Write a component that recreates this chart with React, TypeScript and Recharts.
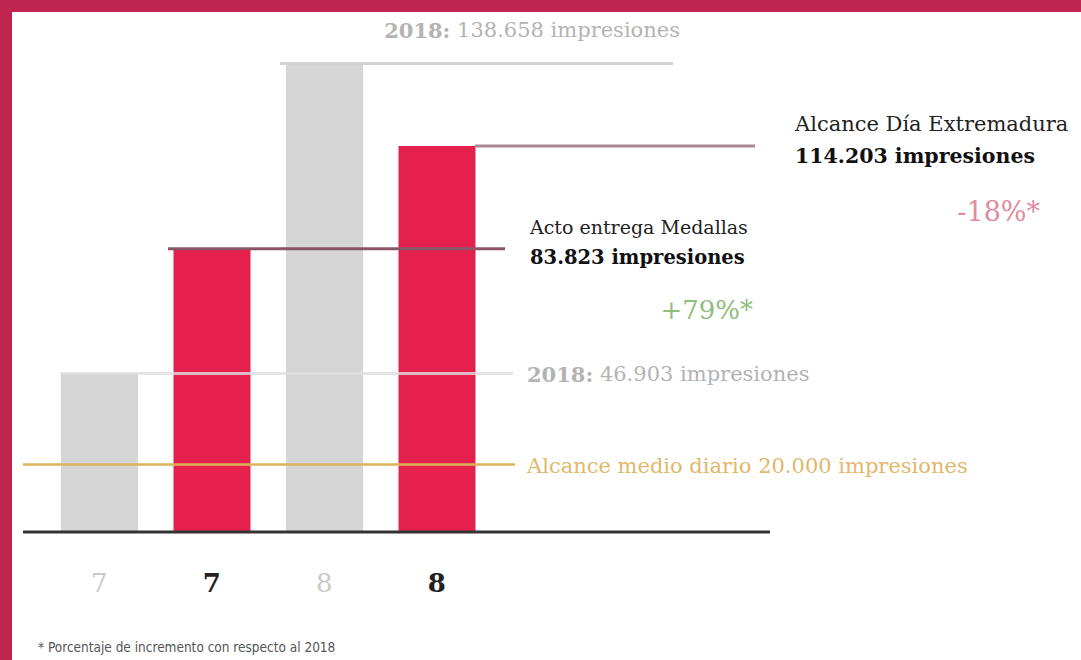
import { BarChart, Bar, XAxis, YAxis, Cell, ReferenceLine } from 'recharts';

// bars: 2018 vs 2019 for day 7 (medals) and day 8 (Extremadura day)
const categories = ['7', '7', '8', '8'];
const years = ['2018', '2019', '2018', '2019'];
const impressions = [46903, 83823, 138658, 114203];
const dailyAverage = 20000;

const eventNames = ['Acto entrega Medallas', 'Alcance Día Extremadura'];
const footnote = '* Porcentaje de incremento con respecto al 2018';

const RED = '#e4214d';
const GRAY = '#d5d5d5';
const FRAME = '#c0254f';
const SERIF = '"DejaVu Serif", "Liberation Serif", serif';

const fmt = (n: number) => String(n).replace(/\B(?=(\d{3})+(?!\d))/g, '.');
const pct = (a: number, b: number) => {
  const v = Math.round((a / b - 1) * 100);
  return `${v > 0 ? '+' : ''}${v}%*`;
};

const data = categories.map((c, i) => ({ day: c, year: years[i], value: impressions[i] }));

const lineShape =
  (from: number, to: number, stroke: string, width: number, label: (x: number, y: number) => any, opacity = 1) =>
  (p: any) => {
    const y = p.y1;
    const x0 = p.x1;
    return (
      <g>
        <line x1={x0 + from} x2={x0 + to} y1={y} y2={y} stroke={stroke} strokeWidth={width} strokeOpacity={opacity} />
        {label(x0 + to, y)}
      </g>
    );
  };

const Tick = (props: any) => {
  const { x, y, payload, index } = props;
  const current = years[index] === '2019';
  return (
    <text
      x={x}
      y={y + 52}
      textAnchor="middle"
      fontFamily={SERIF}
      fontSize={26}
      fontWeight={current ? 700 : 400}
      fill={current ? '#222' : '#c9c9c9'}
    >
      {payload.value}
    </text>
  );
};

export default function App() {
  const [m2018, m2019, e2018, e2019] = impressions;
  return (
    <div
      style={{
        position: 'absolute',
        left: 0,
        top: 0,
        width: 1081,
        height: 660,
        boxSizing: 'border-box',
        borderTop: `12px solid ${FRAME}`,
        borderLeft: `12px solid ${FRAME}`,
        background: '#fff',
        overflow: 'hidden',
      }}
    >
      <BarChart width={1069} height={648} data={data} margin={{ top: 30, right: 311, left: 11, bottom: 98 }}>
        <XAxis
          dataKey="day"
          height={30}
          padding={{ left: 20, right: 277 }}
          axisLine={{ stroke: '#333', strokeWidth: 3 }}
          tickLine={false}
          tick={<Tick />}
          interval={0}
        />
        <YAxis hide domain={[0, 145000]} />
        <Bar dataKey="value" barSize={77} isAnimationActive={false}>
          {data.map((d, i) => (
            <Cell key={i} fill={d.year === '2019' ? RED : GRAY} />
          ))}
        </Bar>

        <ReferenceLine
          y={e2018}
          shape={lineShape(257, 650, '#d2d2d2', 3, (x, y) => (
            <text x={x + 7} y={y - 33} textAnchor="end" dominantBaseline="central" fontFamily={SERIF} fontSize={21} fill="#b3b3b3">
              <tspan fontWeight={700}>2018:</tspan> {fmt(e2018)} impresiones
            </text>
          ))}
        />
        <ReferenceLine
          y={e2019}
          shape={lineShape(452, 732, '#a88792', 3, (x, y) => (
            <g fontFamily={SERIF}>
              <text x={x + 40} y={y - 22} dominantBaseline="central" fontSize={21} fill="#222">
                {eventNames[1]}
              </text>
              <text x={x + 40} y={y + 10} dominantBaseline="central" fontSize={20.5} fontWeight={700} fill="#111">
                {fmt(e2019)} impresiones
              </text>
              <text x={x + 285} y={y + 65} textAnchor="end" dominantBaseline="central" fontSize={27} fill="#e08c9e">
                {pct(e2019, e2018)}
              </text>
            </g>
          ))}
        />
        <ReferenceLine
          y={m2019}
          shape={lineShape(145, 482, '#8a5566', 3, (x, y) => (
            <g fontFamily={SERIF}>
              <text x={x + 25} y={y - 22} dominantBaseline="central" fontSize={19} fill="#222">
                {eventNames[0]}
              </text>
              <text x={x + 25} y={y + 9} dominantBaseline="central" fontSize={19.5} fontWeight={700} fill="#111">
                {fmt(m2019)} impresiones
              </text>
              <text x={x + 248} y={y + 61} textAnchor="end" dominantBaseline="central" fontSize={26} fill="#8fbd7c">
                {pct(m2019, m2018)}
              </text>
            </g>
          ))}
        />
        <ReferenceLine
          y={m2018}
          shape={lineShape(37, 490, '#dedede', 3, (x, y) => (
            <text x={x + 14} y={y} dominantBaseline="central" fontFamily={SERIF} fontSize={21} fill="#b3b3b3">
              <tspan fontWeight={700}>2018:</tspan> {fmt(m2018)} impresiones
            </text>
          ), 0.8)}
        />
        <ReferenceLine
          y={dailyAverage}
          shape={lineShape(0, 492, '#dcb35a', 2.5, (x, y) => (
            <text x={x + 12} y={y + 2} dominantBaseline="central" fontFamily={SERIF} fontSize={21} fill="#e2b76a">
              Alcance medio diario {fmt(dailyAverage)} impresiones
            </text>
          ))}
        />
      </BarChart>
      <div
        style={{
          position: 'absolute',
          left: 26,
          top: 627,
          fontFamily: '"Liberation Sans Narrow", "DejaVu Sans Condensed", sans-serif',
          fontSize: 13.5,
          color: '#555',
          whiteSpace: 'nowrap',
        }}
      >
        {footnote}
      </div>
    </div>
  );
}
